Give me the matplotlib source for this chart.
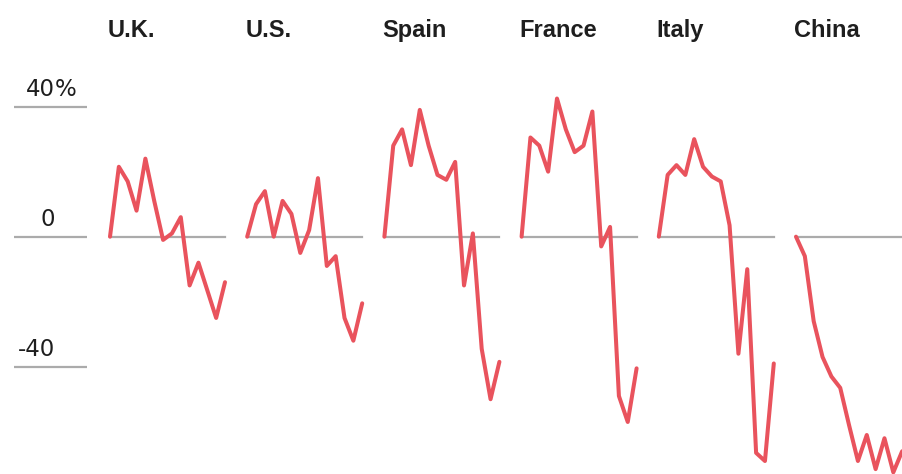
import matplotlib.pyplot as plt

# Weekly change, percent, one small panel per country
countries = ["U.K.", "U.S.", "Spain", "France", "Italy", "China"]
uk = [0, 21.5, 17, 8, 24, 11, -1, 1, 6, -15, -8, -16.5, -25, -14]
us = [0, 10, 14, 0, 11, 7, -5, 2, 18, -9, -6, -25, -32, -20.5]
spain = [0, 28, 33, 22, 39, 28, 19, 17.5, 23, -15, 1, -34.5, -50, -38.5]
france = [0, 30.5, 28, 20, 42.5, 33, 26, 28, 38.5, -3, 3, -49, -57, -40.5]
italy = [0, 19, 22, 19, 30, 21.5, 18.5, 17, 3.5, -36, -10, -66.5, -69, -39]
china = [0, -6, -26, -37, -43, -46.5, -58, -69, -61, -71.5, -62, -72.5, -66]
series = [uk, us, spain, france, italy, china]

ticks = [40, 0, -40]
tick_labels = ["40", "0", "-40"]

W, H = 903, 474
YLIM = (-73.0, 72.8)
RED = "#e9535d"
GRID = "#ababab"
INK = "#1e1e1e"

fig = plt.figure(figsize=(W / 100, H / 100), dpi=100)

# left scale: short rules with numbers sitting on top
ax = fig.add_axes([14 / W, 0, 73 / W, 1])
ax.set_xlim(0, 73)
ax.set_ylim(*YLIM)
ax.axis("off")
for v, lab in zip(ticks, tick_labels):
    ax.axhline(v, color=GRID, lw=1.6)
    ax.text(41, v + 3.3, lab, ha="right", va="baseline",
            fontsize=16.5, color=INK, family="DejaVu Sans")
ax.text(41, ticks[0] + 3.3, "%", ha="left", va="baseline",
        fontsize=16.5, color=INK, family="DejaVu Sans")

# one axes per country, 13 weekly steps wide
panel_w = 115
step = 137.2
for i, (name, vals) in enumerate(zip(countries, series)):
    left = 110 + i * step
    pa = fig.add_axes([left / W, 0, panel_w / W, 1])
    pa.set_xlim(0, 13)
    pa.set_ylim(*YLIM)
    pa.axis("off")
    pa.plot([0, 13], [0, 0], color=GRID, lw=1.6, zorder=1, clip_on=False)
    pa.plot(range(len(vals)), vals, color=RED, lw=2.9, zorder=2,
            solid_joinstyle="round", solid_capstyle="round", clip_on=False)
    fig.text((left - 2) / W, 1 - 37 / H, name, ha="left", va="baseline",
             fontsize=17, fontweight="bold", color=INK,
             family="Liberation Sans")

fig.savefig("out.png", dpi=100)
